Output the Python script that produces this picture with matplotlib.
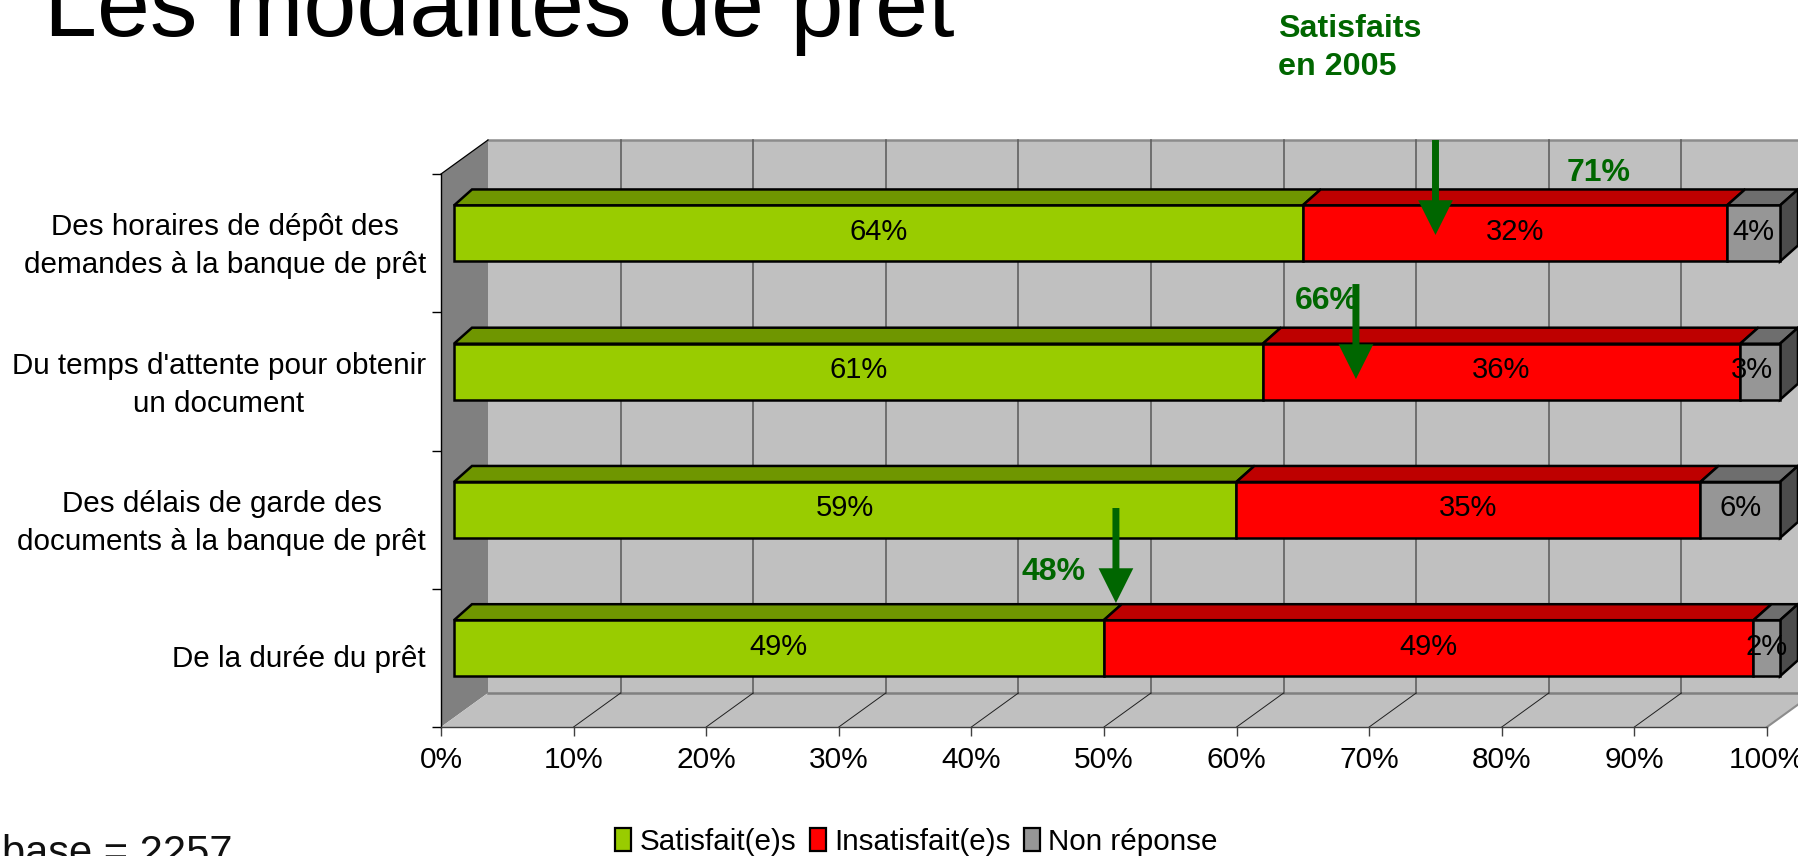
import numpy as np
from matplotlib import pyplot as plt
from matplotlib.patches import Patch

plt.rcParams["font.family"] = ["Liberation Sans", "DejaVu Sans"]

# top bar first
categories = [
    "Des horaires de dépôt des\ndemandes à la banque de prêt",
    "Du temps d'attente pour obtenir\nun document",
    "Des délais de garde des\ndocuments à la banque de prêt",
    "De la durée du prêt",
]
satisfaits = [64, 61, 59, 49]
insatisfaits = [32, 36, 35, 49]
non_reponse = [4, 3, 6, 2]
series_names = ["Satisfait(e)s", "Insatisfait(e)s", "Non réponse"]
x_ticks = [0, 10, 20, 30, 40, 50, 60, 70, 80, 90, 100]

# 2005 markers
labels_2005 = ["71%", "66%", "48%"]
label_x_2005 = [87.3, 66.8, 46.2]
label_y_2005 = [4.007, 3.08, 1.118]
arrow_x_2005 = [75.0, 69.0, 50.9]
arrow_tail_2005 = [4.246, 3.204, 1.584]
arrow_tip_2005 = [3.559, 2.517, 0.897]

GREEN = "#99CC00"
RED = "#FF0000"
GREY = "#969696"
GREEN_TOP = "#6F9600"
RED_TOP = "#BE0000"
GREY_TOP = "#6E6E6E"
GREY_SIDE = "#4C4C4C"
DARK_GREEN = "#006600"

W, H = 1799, 856
px_x = 13.26
px_y = 138.25
wall_dx = 47 / px_x
wall_dy = 34 / px_y
bar_off = 13 / px_x
bar_dx = 18 / px_x
bar_dy = 16 / px_y
bar_h = 56 / px_y

fig = plt.figure(figsize=(W / 100, H / 100), dpi=100)
ax = fig.add_axes([441 / W, (H - 727) / H, 1326 / W, 553 / H])
ax.set_xlim(0, 100)
ax.set_ylim(0, 4)
ax.patch.set_visible(False)
for side in ["top", "right"]:
    ax.spines[side].set_visible(False)
ax.spines["left"].set_color("black")
ax.spines["bottom"].set_color("#404040")
ax.spines["left"].set_linewidth(1.0)
ax.spines["bottom"].set_linewidth(1.0)

# walls and floor
ax.fill([wall_dx, 100 + wall_dx, 100 + wall_dx, wall_dx],
        [wall_dy, wall_dy, 4 + wall_dy, 4 + wall_dy], color="#C0C0C0", lw=0, clip_on=False, zorder=0)
ax.fill([0, wall_dx, wall_dx, 0], [0, wall_dy, 4 + wall_dy, 4], color="#808080", lw=0, clip_on=False, zorder=0.5)
ax.fill([0, 100, 100 + wall_dx, wall_dx], [0, 0, wall_dy, wall_dy], color="#C0C0C0", lw=0, clip_on=False, zorder=0.5)
ax.plot([wall_dx, 100 + wall_dx], [4 + wall_dy, 4 + wall_dy], color="#8C8C8C", lw=1.8, clip_on=False, zorder=1)
ax.plot([wall_dx, 100 + wall_dx], [wall_dy, wall_dy], color="#808080", lw=1.8, clip_on=False, zorder=1)
ax.plot([100, 100 + wall_dx], [0, wall_dy], color="#8C8C8C", lw=1.5, clip_on=False, zorder=1)
ax.plot([0, wall_dx], [4, 4 + wall_dy], color="black", lw=0.9, clip_on=False, zorder=1)

for t in x_ticks[1:-1]:
    ax.plot([t + wall_dx, t + wall_dx], [wall_dy, 4 + wall_dy], color="#606060", lw=1.2, clip_on=False, zorder=1)
    ax.plot([t, t + wall_dx], [0, wall_dy], color="#202020", lw=0.7, clip_on=False, zorder=1)

# bars, bottom category at y=0.5
y_pos = np.array([3.5, 2.5, 1.5, 0.5]) + 0.07
series = [satisfaits, insatisfaits, non_reponse]
fronts = [GREEN, RED, GREY]
tops = [GREEN_TOP, RED_TOP, GREY_TOP]
left = np.full(4, bar_off)
for s, (values, front, top) in enumerate(zip(series, fronts, tops)):
    values = np.array(values, dtype=float)
    ax.barh(y_pos, values, height=bar_h, left=left, color=front, edgecolor="black", lw=1.8, zorder=3, clip_on=False)
    for i, (y, l, v) in enumerate(zip(y_pos, left, values)):
        yt = y + bar_h / 2
        ax.fill([l, l + v, l + v + bar_dx, l + bar_dx], [yt, yt, yt + bar_dy, yt + bar_dy],
                facecolor=top, edgecolor="black", lw=1.8, zorder=2.5, clip_on=False)
        # the 3% label sits left of its segment in the original
        nudge = -0.63 if (s, i) == (2, 1) else 0
        ax.text(l + v / 2 + nudge, y - 0.047, f"{v:.0f}%", ha="center", va="baseline", fontsize=21, color="black",
                zorder=4, clip_on=False)
    left = left + values

# right end of the bars
for y in y_pos:
    r = left[0]
    ax.fill([r, r + bar_dx, r + bar_dx, r],
            [y - bar_h / 2, y - bar_h / 2 + bar_dy, y + bar_h / 2 + bar_dy, y + bar_h / 2],
            facecolor=GREY_SIDE, edgecolor="black", lw=1.8, zorder=2.6, clip_on=False)

# axes ticks
ax.set_xticks(x_ticks)
ax.set_xticklabels([f"{t}%" for t in x_ticks], fontsize=21.5)
ax.set_yticks([0, 1, 2, 3, 4])
ax.set_yticklabels([])
ax.set_yticks([3.535, 2.53, 1.535, 0.515], minor=True)
ax.set_yticklabels(categories, minor=True, fontsize=21.3, ha="right", multialignment="center", linespacing=1.45)
ax.tick_params(axis="y", which="major", length=6.7, width=1, color="black")
ax.tick_params(axis="y", which="minor", length=0, pad=10.8)
ax.tick_params(axis="x", length=6.7, width=1, color="#404040", pad=7)

# arrows and 2005 values
for x, tail, tip in zip(arrow_x_2005, arrow_tail_2005, arrow_tip_2005):
    ax.annotate("", xy=(x, tip), xytext=(x, tail), annotation_clip=False, zorder=6,
                arrowprops=dict(facecolor=DARK_GREEN, edgecolor=DARK_GREEN, width=5.0, headwidth=25,
                                headlength=25, shrink=0, lw=0))
for txt, x, y in zip(labels_2005, label_x_2005, label_y_2005):
    ax.text(x, y, txt, ha="center", va="center", fontsize=23, fontweight="bold", color=DARK_GREEN, zorder=5,
            clip_on=False)

fig.text(1278 / W, 1 - 37 / H, "Satisfaits", fontsize=23.2, fontweight="bold", color=DARK_GREEN, va="baseline")
fig.text(1278 / W, 1 - 75 / H, "en 2005", fontsize=23.2, fontweight="bold", color=DARK_GREEN, va="baseline")

# slide title and base, both cut by the frame
fig.text(44 / W, 1 - 36 / H, "Les modalités de prêt", fontsize=68.6, color="black", va="baseline")
fig.text(2 / W, 1 - 865 / H, "base = 2257", fontsize=30, color="#101010", va="baseline")

handles = [Patch(facecolor=c, edgecolor="black", lw=1.6) for c in fronts]
fig.legend(handles, series_names, ncol=3, frameon=False, fontsize=21.3, loc="lower left",
           bbox_to_anchor=(612 / W, -0.003), borderpad=0.1, borderaxespad=0, handlelength=0.55,
           handleheight=0.8, handletextpad=0.28, columnspacing=0.45)

fig.savefig("out.png", dpi=100)
